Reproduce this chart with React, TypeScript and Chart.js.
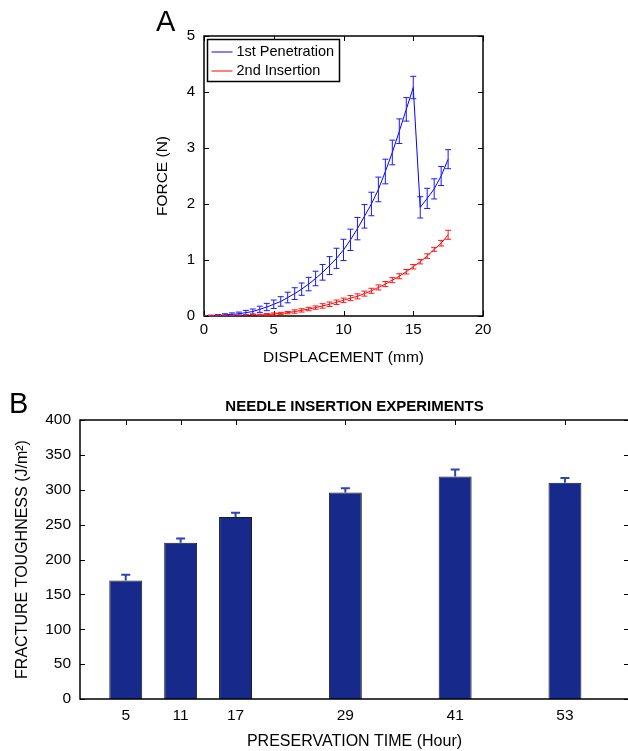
import React, { useEffect, useRef } from 'react';
import { Chart, registerables } from 'chart.js';

Chart.register(...registerables);

// ---------- Panel A data ----------
const displacement = [0, 0.5, 1, 1.5, 2, 2.5, 3, 3.5, 4, 4.5, 5, 5.5, 6, 6.5, 7, 7.5, 8, 8.5, 9, 9.5, 10, 10.5, 11, 11.5, 12, 12.5, 13, 13.5, 14, 14.5, 15, 15.5, 16, 16.5, 17, 17.5];
const force1st = [0, 0.005, 0.01, 0.02, 0.03, 0.04, 0.06, 0.08, 0.12, 0.16, 0.21, 0.26, 0.33, 0.4, 0.48, 0.57, 0.67, 0.78, 0.9, 1.03, 1.18, 1.36, 1.56, 1.78, 2.0, 2.26, 2.58, 2.92, 3.3, 3.69, 4.08, 1.94, 2.1, 2.27, 2.5, 2.8];
const err1st = [0.01, 0.01, 0.015, 0.02, 0.025, 0.03, 0.04, 0.045, 0.055, 0.065, 0.075, 0.085, 0.095, 0.105, 0.11, 0.12, 0.13, 0.14, 0.16, 0.18, 0.19, 0.19, 0.2, 0.21, 0.21, 0.22, 0.22, 0.22, 0.22, 0.21, 0.2, 0.19, 0.18, 0.18, 0.17, 0.17];
const force2nd = [0, 0, 0.001, 0.002, 0.003, 0.005, 0.008, 0.012, 0.018, 0.025, 0.035, 0.045, 0.06, 0.08, 0.1, 0.125, 0.15, 0.18, 0.21, 0.245, 0.28, 0.32, 0.35, 0.4, 0.45, 0.51, 0.57, 0.64, 0.71, 0.79, 0.88, 0.97, 1.07, 1.19, 1.3, 1.45];
const err2nd = [0.005, 0.01, 0.01, 0.01, 0.01, 0.015, 0.015, 0.015, 0.015, 0.02, 0.02, 0.02, 0.02, 0.03, 0.03, 0.03, 0.03, 0.04, 0.04, 0.04, 0.04, 0.045, 0.045, 0.045, 0.045, 0.045, 0.045, 0.045, 0.045, 0.04, 0.04, 0.04, 0.04, 0.035, 0.05, 0.08];
const seriesNames = ['1st Penetration', '2nd Insertion'];

// ---------- Panel B data ----------
const hours = [5, 11, 17, 29, 41, 53];
const toughness = [170, 224, 261, 296, 319, 310];
const toughnessErr = [8, 6, 6, 6, 10, 7];

const FONT = '"Liberation Sans", Arial, Helvetica, sans-serif';

const errorBarPlugin = {
  id: 'errorBars',
  afterDatasetsDraw(chart: any) {
    const { ctx, chartArea } = chart;
    const xs = chart.scales.x;
    const ys = chart.scales.y;
    chart.data.datasets.forEach((ds: any) => {
      const errs = ds.errors;
      if (!errs) return;
      ctx.save();
      if (ds.errorClip) {
        ctx.beginPath();
        ctx.rect(chartArea.left, chartArea.top, chartArea.right - chartArea.left, chartArea.bottom - chartArea.top);
        ctx.clip();
      }
      ctx.strokeStyle = ds.errorColor;
      ctx.lineWidth = ds.errorWidth;
      ds.data.forEach((pt: any, i: number) => {
        const x = xs.getPixelForValue(pt.x);
        const yHi = ys.getPixelForValue(pt.y + errs[i]);
        const yLo = ys.getPixelForValue(ds.errorUpOnly ? pt.y : pt.y - errs[i]);
        const hw = ds.errorCap / 2;
        ctx.beginPath();
        ctx.moveTo(x, yLo);
        ctx.lineTo(x, yHi);
        ctx.moveTo(x - hw, yHi);
        ctx.lineTo(x + hw, yHi);
        if (!ds.errorUpOnly) {
          ctx.moveTo(x - hw, yLo);
          ctx.lineTo(x + hw, yLo);
        }
        ctx.stroke();
      });
      ctx.restore();
    });
  },
};

const framePlugin = {
  id: 'frame',
  beforeDatasetsDraw(chart: any, _args: any, opts: any) {
    const { ctx, chartArea } = chart;
    const { left, right, top, bottom } = chartArea;
    const len = opts.tickLen ?? 5;
    ctx.save();
    ctx.strokeStyle = '#000';
    ctx.lineWidth = opts.lineWidth ?? 1;
    ctx.beginPath();
    chart.scales.x.ticks.forEach((t: any) => {
      const px = Math.round(chart.scales.x.getPixelForValue(t.value)) + 0.5;
      ctx.moveTo(px, bottom);
      ctx.lineTo(px, bottom - len);
      ctx.moveTo(px, top);
      ctx.lineTo(px, top + len);
    });
    chart.scales.y.ticks.forEach((t: any) => {
      const py = Math.round(chart.scales.y.getPixelForValue(t.value)) + 0.5;
      ctx.moveTo(left, py);
      ctx.lineTo(left + len, py);
      ctx.moveTo(right, py);
      ctx.lineTo(right - len, py);
    });
    ctx.stroke();
    ctx.restore();
  },
  afterDatasetsDraw(chart: any, _args: any, opts: any) {
    const { ctx, chartArea } = chart;
    const { left, right, top, bottom } = chartArea;
    ctx.save();
    ctx.strokeStyle = '#000';
    ctx.lineWidth = opts.frameWidth ?? 1.5;
    ctx.strokeRect(left, top, right - left, bottom - top);
    ctx.restore();
  },
};

const textPlugin = {
  id: 'texts',
  afterDraw(chart: any, _args: any, opts: any) {
    const { ctx, chartArea } = chart;
    (opts.items || []).forEach((it: any) => {
      ctx.save();
      ctx.fillStyle = '#000';
      ctx.font = it.font;
      ctx.textAlign = it.align || 'left';
      ctx.textBaseline = it.baseline || 'alphabetic';
      const x = it.x === 'center' ? (chartArea.left + chartArea.right) / 2 : it.x;
      ctx.fillText(it.text, x, it.y);
      ctx.restore();
    });
  },
};

const boxLegendPlugin = {
  id: 'boxLegend',
  afterDraw(chart: any, _args: any, opts: any) {
    if (!opts.show) return;
    const { ctx } = chart;
    const { x, y, w, h, rowH, lineLen } = opts;
    ctx.save();
    ctx.fillStyle = '#fff';
    ctx.fillRect(x, y, w, h);
    ctx.strokeStyle = '#000';
    ctx.lineWidth = 1.5;
    ctx.strokeRect(x, y, w, h);
    chart.data.datasets.forEach((ds: any, i: number) => {
      const cy = y + 12.5 + i * rowH;
      ctx.strokeStyle = ds.borderColor;
      ctx.lineWidth = 1;
      ctx.beginPath();
      ctx.moveTo(x + 4, cy);
      ctx.lineTo(x + 4 + lineLen, cy);
      ctx.stroke();
      ctx.fillStyle = '#000';
      ctx.font = `14.5px ${FONT}`;
      ctx.textBaseline = 'middle';
      ctx.textAlign = 'left';
      ctx.fillText(ds.label, x + 8 + lineLen, cy);
    });
    ctx.restore();
  },
};

export default function App() {
  const refA = useRef<HTMLCanvasElement>(null);
  const refB = useRef<HTMLCanvasElement>(null);

  useEffect(() => {
    const tickFont = { family: FONT, size: 15 };
    const chartA = new Chart(refA.current as HTMLCanvasElement, {
      type: 'line',
      data: {
        datasets: [
          {
            label: seriesNames[0],
            data: displacement.map((x, i) => ({ x, y: force1st[i] })),
            borderColor: '#0000ff',
            borderWidth: 1,
            pointRadius: 0,
            fill: false,
            tension: 0,
            errors: err1st,
            errorColor: '#1a1aff',
            errorWidth: 1,
            errorCap: 6,
            errorClip: true,
          } as any,
          {
            label: seriesNames[1],
            data: displacement.map((x, i) => ({ x, y: force2nd[i] })),
            borderColor: '#ff0000',
            borderWidth: 1,
            pointRadius: 0,
            fill: false,
            tension: 0,
            errors: err2nd,
            errorColor: '#ff1a1a',
            errorWidth: 1,
            errorCap: 6,
            errorClip: true,
          } as any,
        ],
      },
      options: {
        responsive: false,
        animation: false,
        devicePixelRatio: 1,
        layout: { padding: { left: 148, right: 145, top: 36, bottom: 0 } },
        plugins: {
          legend: { display: false },
          tooltip: { enabled: false },
          frame: { tickLen: 5, lineWidth: 1, frameWidth: 1.5 },
          boxLegend: { show: true, x: 207.5, y: 39.5, w: 132, h: 42, rowH: 19, lineLen: 21 },
          texts: { items: [{ text: 'A', x: 156, y: 30.5, font: `29px ${FONT}` }] },
        } as any,
        scales: {
          x: {
            type: 'linear',
            min: 0,
            max: 20,
            ticks: { stepSize: 5, color: '#000', font: tickFont, padding: 5, maxRotation: 0 },
            grid: { display: false, drawTicks: false },
            border: { display: false },
            title: { display: true, text: 'DISPLACEMENT (mm)', color: '#000', font: { family: FONT, size: 15.5 }, padding: { top: 0, bottom: 13 } },
            afterFit: (s: any) => { s.height = 64; },
          },
          y: {
            type: 'linear',
            min: 0,
            max: 5,
            ticks: { stepSize: 1, color: '#000', font: tickFont, padding: 9 },
            grid: { display: false, drawTicks: false },
            border: { display: false },
            title: { display: true, text: 'FORCE (N)', color: '#000', font: { family: FONT, size: 15.5 }, padding: { top: 5, bottom: 0 } },
            afterFit: (s: any) => { s.width = 56; },
          },
        },
      },
      plugins: [framePlugin, errorBarPlugin, boxLegendPlugin, textPlugin],
    });

    const tickFontB = { family: FONT, size: 15.5 };
    const chartB = new Chart(refB.current as HTMLCanvasElement, {
      type: 'bar',
      data: {
        datasets: [
          {
            label: 'Fracture toughness',
            data: hours.map((x, i) => ({ x, y: toughness[i] })),
            backgroundColor: '#172a8b',
            borderColor: '#1c1c1c',
            borderWidth: 1,
            barPercentage: 0.6,
            categoryPercentage: 1,
            errors: toughnessErr,
            errorColor: '#2b45b2',
            errorWidth: 2,
            errorCap: 9,
            errorUpOnly: true,
          } as any,
        ],
      },
      options: {
        responsive: false,
        animation: false,
        devicePixelRatio: 1,
        layout: { padding: { left: 0, right: 11, top: 40, bottom: 0 } },
        plugins: {
          legend: { display: false },
          tooltip: { enabled: false },
          frame: { tickLen: 5, lineWidth: 1, frameWidth: 1.5 },
          boxLegend: { show: false },
          texts: {
            items: [
              { text: 'B', x: 9, y: 33.3, font: `29px ${FONT}` },
              { text: 'NEEDLE INSERTION EXPERIMENTS', x: 'center', y: 26.5, font: `bold 15px ${FONT}`, align: 'center', baseline: 'middle' },
            ],
          },
        } as any,
        scales: {
          x: {
            type: 'linear',
            min: 0,
            max: 60,
            offset: false,
            afterBuildTicks: (s: any) => { s.ticks = hours.map((v) => ({ value: v })); },
            ticks: { color: '#000', font: tickFontB, padding: 7, maxRotation: 0, autoSkip: false },
            grid: { display: false, drawTicks: false, offset: false },
            border: { display: false },
            title: { display: true, text: 'PRESERVATION TIME (Hour)', color: '#000', font: { family: FONT, size: 16 }, padding: { top: 0, bottom: 0 } },
            afterFit: (s: any) => { s.height = 52; },
          },
          y: {
            type: 'linear',
            min: 0,
            max: 400,
            ticks: { stepSize: 50, color: '#000', font: tickFontB, padding: 9 },
            grid: { display: false, drawTicks: false },
            border: { display: false },
            title: { display: true, text: 'FRACTURE TOUGHNESS (J/m²)', color: '#000', font: { family: FONT, size: 16 }, padding: { top: 13, bottom: 0 } },
            afterFit: (s: any) => { s.width = 80; },
          },
        },
      },
      plugins: [framePlugin, errorBarPlugin, textPlugin],
    });

    return () => {
      chartA.destroy();
      chartB.destroy();
    };
  }, []);

  return (
    <div style={{ position: 'absolute', left: 0, top: 0, width: 628, height: 751, overflow: 'hidden', background: '#fff' }}>
      <canvas ref={refA} width={628} height={380} style={{ position: 'absolute', left: 0, top: 0, width: 628, height: 380 }} />
      <canvas ref={refB} width={640} height={371} style={{ position: 'absolute', left: 0, top: 380, width: 640, height: 371 }} />
    </div>
  );
}
